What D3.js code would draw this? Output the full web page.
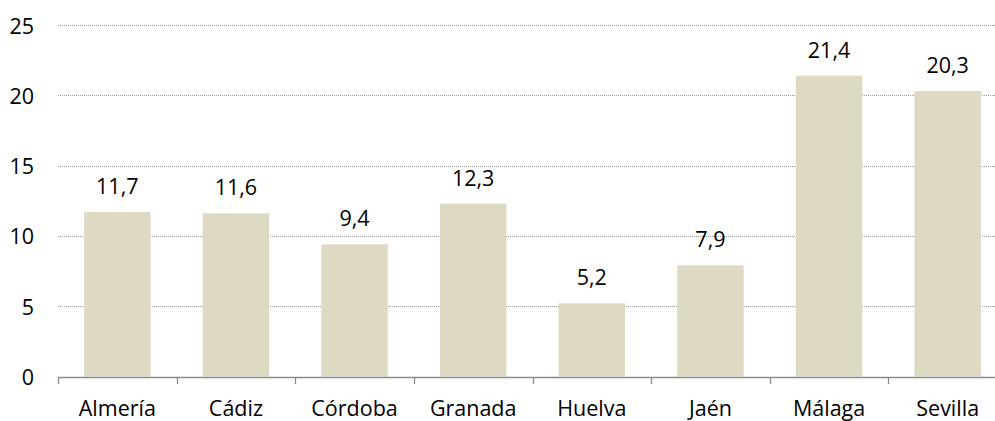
<!DOCTYPE html>
<html>
<head>
<meta charset="utf-8">
<script src="https://cdn.jsdelivr.net/npm/d3@7"></script>
<style>
  body { margin: 0; background: #fff; }
  svg text { font-family: "Open Sans", Lato, sans-serif; font-size: 21.5px; fill: #000; }
</style>
</head>
<body>
<svg id="chart" width="995" height="421"></svg>
<script>
// provinces and their values
var provinces = ["Almería", "Cádiz", "Córdoba", "Granada", "Huelva", "Jaén", "Málaga", "Sevilla"];
var values = [11.7, 11.6, 9.4, 12.3, 5.2, 7.9, 21.4, 20.3];
var yTicks = [0, 5, 10, 15, 20, 25];

var svg = d3.select("#chart");
var plotLeft = 58, plotBottom = 376.5, plotTop = 25;

var x = d3.scaleBand().domain(provinces).range([plotLeft, 1007]).paddingInner(0.44).paddingOuter(0.22);
var y = d3.scaleLinear().domain([0, 25]).range([plotBottom, plotTop]);
var step = x.step();

// dotted gridlines
svg.selectAll("line.grid").data(yTicks.filter(function(d){ return d > 0; }))
  .enter().append("line")
  .attr("class", "grid")
  .attr("x1", plotLeft).attr("x2", 995)
  .attr("y1", function(d){ return Math.round(y(d)) + 0.5; })
  .attr("y2", function(d){ return Math.round(y(d)) + 0.5; })
  .attr("stroke", "#999999").attr("stroke-width", 1).attr("stroke-dasharray", "1,1");

// y labels
svg.selectAll("text.ylab").data(yTicks).enter().append("text")
  .attr("class", "ylab")
  .attr("x", 34).attr("y", function(d){ return y(d); })
  .attr("text-anchor", "end").attr("dominant-baseline", "central")
  .text(function(d){ return d; });

// bars
svg.selectAll("rect.bar").data(values).enter().append("rect")
  .attr("class", "bar")
  .attr("x", function(d, i){ return x(provinces[i]); })
  .attr("width", x.bandwidth())
  .attr("y", function(d){ return y(d); })
  .attr("height", function(d){ return plotBottom - y(d); })
  .attr("fill", "#ddd9c3");

// value labels
svg.selectAll("text.val").data(values).enter().append("text")
  .attr("class", "val")
  .attr("x", function(d, i){ return x(provinces[i]) + x.bandwidth() / 2; })
  .attr("y", function(d){ return y(d) - 18; })
  .attr("text-anchor", "middle")
  .text(function(d){ return d.toFixed(1).replace(".", ","); });

// x axis line and tick marks
svg.append("line")
  .attr("x1", plotLeft).attr("x2", 995).attr("y1", 377.5).attr("y2", 377.5)
  .attr("stroke", "#8c8c8c").attr("stroke-width", 1.3);
var tickPos = provinces.map(function(p){ return x(p) - step * x.paddingInner() / 2; });
svg.selectAll("line.tick").data(tickPos).enter().append("line")
  .attr("class", "tick")
  .attr("x1", function(d){ return Math.round(d) + 0.5; })
  .attr("x2", function(d){ return Math.round(d) + 0.5; })
  .attr("y1", 377).attr("y2", 384)
  .attr("stroke", "#8c8c8c").attr("stroke-width", 1.3);

// x labels
svg.selectAll("text.xlab").data(provinces).enter().append("text")
  .attr("class", "xlab")
  .attr("x", function(d){ return x(d) + x.bandwidth() / 2; })
  .attr("y", 416)
  .attr("text-anchor", "middle")
  .text(function(d){ return d; });
</script>
</body>
</html>
